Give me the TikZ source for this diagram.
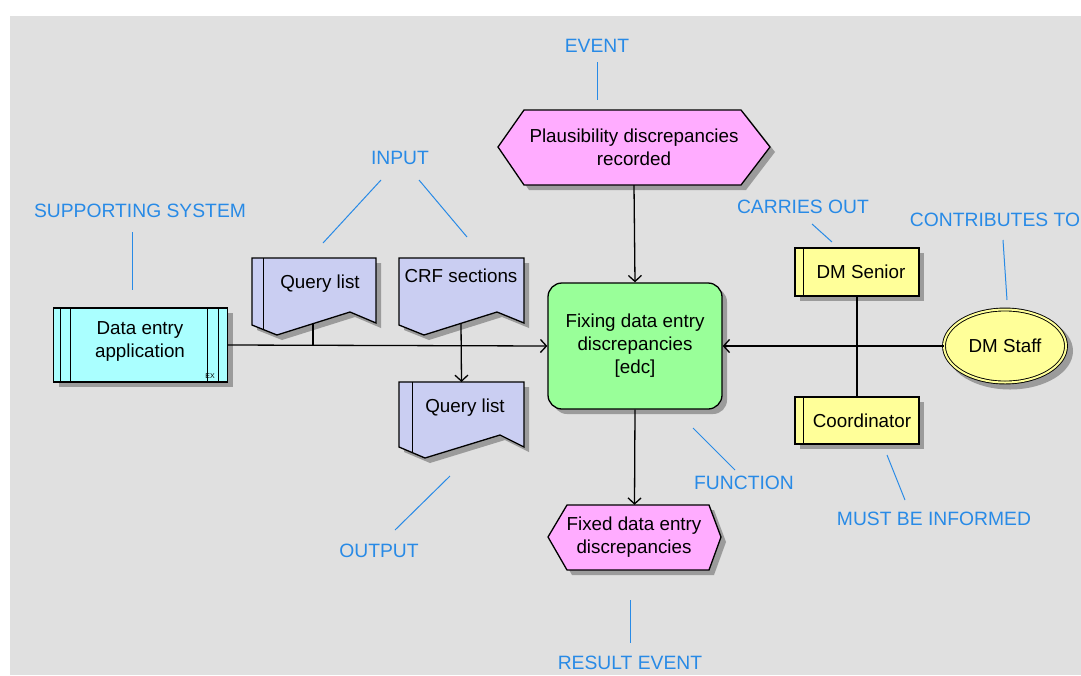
\documentclass[tikz,border=0pt]{standalone}
\usepackage{fontspec}
\setmainfont{Liberation Sans}
\usetikzlibrary{arrows.meta,shapes.geometric}
\definecolor{bggray}{RGB}{224,224,224}
\definecolor{lblblue}{RGB}{40,138,230}
\definecolor{evpink}{RGB}{255,172,255}
\definecolor{fngreen}{RGB}{153,255,153}
\definecolor{syscyan}{RGB}{170,255,255}
\definecolor{doclav}{RGB}{202,206,242}
\definecolor{orgyellow}{RGB}{255,255,153}
\definecolor{shadowgray}{RGB}{155,155,155}
\tikzset{
  lbl/.style={text=lblblue, font=\fontsize{19.3}{23}\selectfont, inner sep=0pt},
  lblline/.style={draw=lblblue, line width=1pt},
  conn/.style={line width=1.3pt, draw=black},
  arr/.style={conn, -{Straight Barb[length=6pt,width=13pt,line width=1.3pt]}},
  shd/.style={fill=shadowgray, draw=none},
  outl/.style={draw=black, line width=1.3pt},
  txt/.style={font=\fontsize{18.8}{23}\selectfont, align=center, inner sep=0pt},
  frame/.style={inner sep=0pt, draw=none},
}
\begin{document}
\begin{tikzpicture}[x=1pt,y=-1pt]
\useasboundingbox (0,0) rectangle (1081,675);
\fill[white] (0,0) rectangle (1081,675);
\fill[bggray] (10,16) rectangle (1081,675);

% ---------- Event (top) ----------
\path[shd] (503,152) -- (529,115) -- (746,115) -- (775,152) -- (746,190) -- (529,190) -- cycle;
\path[outl, fill=evpink] (498,147) -- (524,110) -- (741,110) -- (770,147) -- (741,185) -- (524,185) -- cycle;
\node[frame, minimum width=272pt, minimum height=75pt] (ev) at (634,147.5) {};
\node[txt] at (634,147.5) {Plausibility discrepancies\\recorded};

% ---------- Function ----------
\node[shd, rounded corners=14pt, minimum width=174pt, minimum height=126pt] at (640,351) {};
\node[outl, fill=fngreen, rounded corners=14pt, minimum width=174pt, minimum height=126pt, txt] (fn) at (635,346)
  {Fixing data entry\\discrepancies\\{}[edc]};

% ---------- Result event ----------
\path[shd] (553,542) -- (572,510) -- (714,510) -- (726,542) -- (714,575) -- (572,575) -- cycle;
\path[outl, fill=evpink] (548,537) -- (567,505) -- (709,505) -- (721,537) -- (709,570) -- (567,570) -- cycle;
\node[frame, minimum width=173pt, minimum height=65pt] (res) at (634.5,537.5) {};
\node[txt] at (634,537.5) {Fixed data entry\\discrepancies};

% ---------- Supporting system ----------
\node[shd, minimum width=174pt, minimum height=74pt] at (145.5,350) {};
\node[outl, fill=syscyan, minimum width=174pt, minimum height=74pt] (dea) at (140.5,345) {};
\draw[line width=1pt] (60,308) -- (60,382) (70,308) -- (70,382) (207,308) -- (207,382) (218,308) -- (218,382);
\node[txt] at (140,341.5) {Data entry\\application};
\node[font=\fontsize{7}{8}\selectfont, inner sep=0pt] (ex) at (210,376) {EX};

% ---------- Input documents ----------
\path[shd] (257,263) -- (381,263) -- (381,328) -- (355,317) -- (282,340) -- (257,330) -- cycle;
\path[outl, fill=doclav] (252,258) -- (376,258) -- (376,323) -- (350,312) -- (277,335) -- (252,325) -- cycle;
\draw[line width=1pt] (263,258) -- (263,329);
\node[txt] (qin) at (320,284) {Query list};
\coordinate (qinb) at (313,324);

\path[shd] (404,263) -- (529,263) -- (529,328) -- (502,317) -- (429,340) -- (404,330) -- cycle;
\path[outl, fill=doclav] (399,258) -- (524,258) -- (524,323) -- (497,312) -- (424,335) -- (399,325) -- cycle;
\node[txt] (crf) at (461,276) {CRF sections};
\coordinate (crfb) at (461,323.5);

% ---------- Output document ----------
\path[shd] (404,387) -- (529,387) -- (529,452) -- (505,440) -- (430,463) -- (404,452) -- cycle;
\path[outl, fill=doclav] (399,382) -- (524,382) -- (524,447) -- (500,435) -- (425,458) -- (399,447) -- cycle;
\draw[line width=1pt] (412,382) -- (412,452);
\node[frame, minimum width=125pt, minimum height=1pt] (qouttop) at (461.5,382) {};
\node[txt] (qout) at (465,408) {Query list};

% ---------- Org units ----------
\node[shd, minimum width=124pt, minimum height=48pt] at (862,277) {};
\node[outl, fill=orgyellow, minimum width=124pt, minimum height=48pt] (dmsen) at (857,272) {};
\draw[line width=1pt] (803,248) -- (803,296);
\node[txt] at (861,272) {DM Senior};

\node[shd, minimum width=124pt, minimum height=47pt] at (862,425.5) {};
\node[outl, fill=orgyellow, minimum width=124pt, minimum height=47pt] (coord) at (857,420.5) {};
\draw[line width=1pt] (803,397) -- (803,444);
\node[txt] at (862,420.5) {Coordinator};

\node[ellipse, shd, minimum width=126pt, minimum height=77pt, inner sep=0pt] at (1010,351) {};
\node[ellipse, draw=black, line width=0.9pt, double=orgyellow, double distance=2pt, fill=orgyellow,
      minimum width=122pt, minimum height=73pt, inner sep=0pt, txt] (dmst) at (1005,346) {DM Staff};

% ---------- Connectors ----------
\draw[arr] (ev.south) -- (fn.north);
\draw[arr] (fn.south) -- (res.north);
\draw[arr] (dea.east) -- (fn.west);
\draw[conn] (qinb) -- (qinb |- fn.west);
\draw[arr] (crfb) -- (qouttop.center);
\draw[arr] (dmst.west) -- (fn.east);
\draw[conn] (dmsen.south) -- (coord.north);

% ---------- Labels ----------
\node[lbl] (lev) at (597,46) {EVENT};
\coordinate (lev1) at (597,62); \coordinate (lev2) at (597,100);
\draw[lblline] (lev1) -- (lev2);

\node[lbl] (lin) at (400,158) {INPUT};
\coordinate (lin1) at (381,180); \coordinate (lin2) at (323,243);
\coordinate (lin3) at (419,180); \coordinate (lin4) at (467,237);
\draw[lblline] (lin1) -- (lin2) (lin3) -- (lin4);

\node[lbl] (lss) at (140,211) {SUPPORTING SYSTEM};
\coordinate (lss1) at (132,232); \coordinate (lss2) at (132,290);
\draw[lblline] (lss1) -- (lss2);

\node[lbl] (lco) at (803,207) {CARRIES OUT};
\coordinate (lco1) at (812,224); \coordinate (lco2) at (832,242);
\draw[lblline] (lco1) -- (lco2);

\node[lbl] (lct) at (995,220) {CONTRIBUTES TO};
\coordinate (lct1) at (1003,240); \coordinate (lct2) at (1007,300);
\draw[lblline] (lct1) -- (lct2);

\node[lbl] (lfn) at (744,483) {FUNCTION};
\coordinate (lfn1) at (693,428); \coordinate (lfn2) at (735,470);
\draw[lblline] (lfn1) -- (lfn2);

\node[lbl] (lmi) at (934,519) {MUST BE INFORMED};
\coordinate (lmi1) at (887,455); \coordinate (lmi2) at (905,500);
\draw[lblline] (lmi1) -- (lmi2);

\node[lbl] (lout) at (379,551) {OUTPUT};
\coordinate (lout1) at (395,530); \coordinate (lout2) at (450,476);
\draw[lblline] (lout1) -- (lout2);

\node[lbl] (lre) at (630,663) {RESULT EVENT};
\coordinate (lre1) at (630,600); \coordinate (lre2) at (630,643);
\draw[lblline] (lre1) -- (lre2);
\end{tikzpicture}
\end{document}
